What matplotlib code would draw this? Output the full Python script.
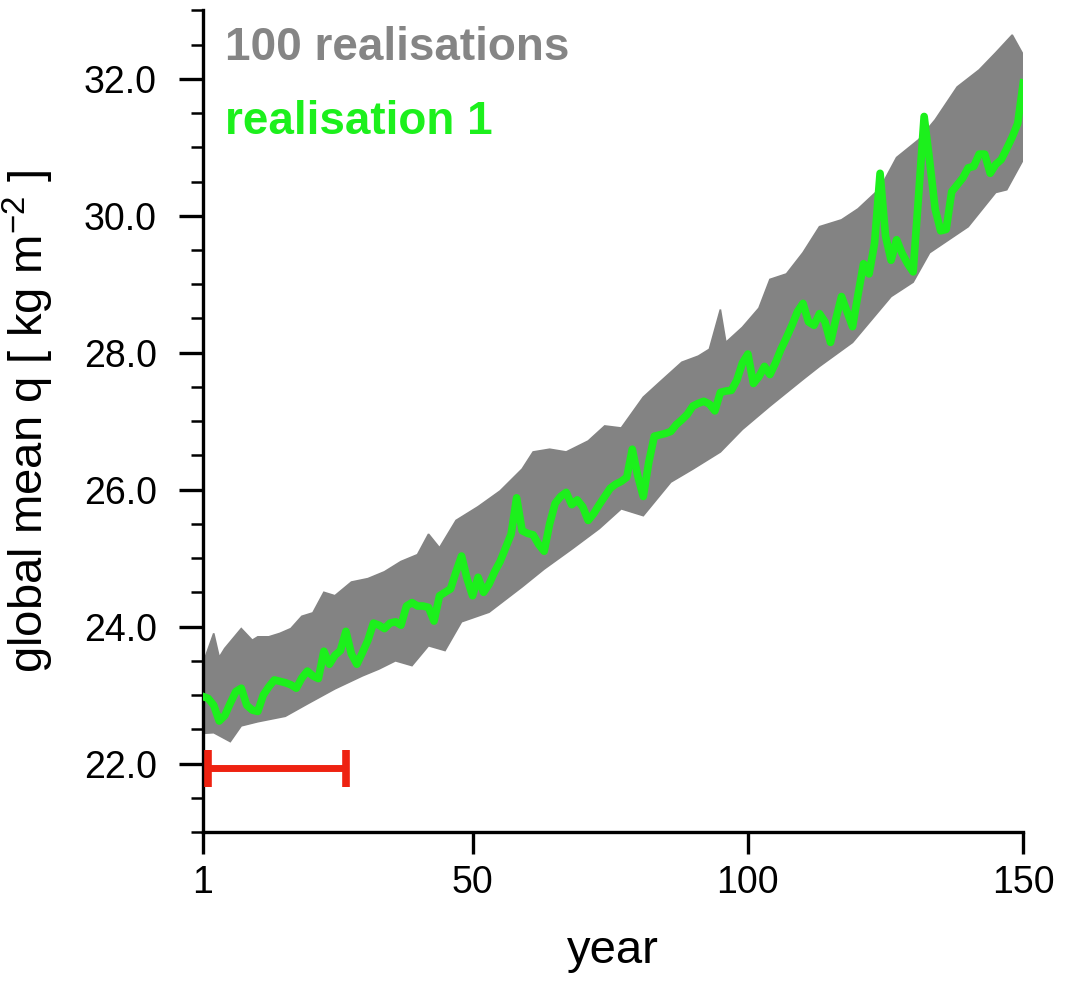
import numpy as np
import matplotlib
matplotlib.use("Agg")
import matplotlib.pyplot as plt

plt.rcParams["font.family"] = ["Liberation Sans", "DejaVu Sans"]
plt.rcParams["mathtext.default"] = "regular"

# realisation 1 (green), one value per year
years = np.arange(1, 151)
real1 = [
    22.98, 22.95, 22.85, 22.62, 22.70, 22.88, 23.05, 23.10, 22.85, 22.78,
    22.76, 23.00, 23.12, 23.22, 23.20, 23.18, 23.15, 23.10, 23.25, 23.35,
    23.28, 23.24, 23.64, 23.45, 23.58, 23.65, 23.93, 23.60, 23.45, 23.62,
    23.80, 24.05, 24.02, 23.97, 24.05, 24.07, 24.02, 24.30, 24.35, 24.30,
    24.30, 24.28, 24.08, 24.45, 24.50, 24.55, 24.80, 25.03, 24.70, 24.45,
    24.72, 24.50, 24.62, 24.80, 24.95, 25.15, 25.35, 25.88, 25.40, 25.36,
    25.34, 25.20, 25.10, 25.50, 25.80, 25.90, 25.96, 25.78, 25.85, 25.75,
    25.55, 25.65, 25.78, 25.90, 26.02, 26.08, 26.12, 26.18, 26.59, 26.20,
    25.90, 26.40, 26.78, 26.80, 26.82, 26.85, 26.95, 27.02, 27.10, 27.22,
    27.26, 27.29, 27.25, 27.15, 27.42, 27.44, 27.45, 27.60, 27.85, 27.98,
    27.55, 27.65, 27.80, 27.68, 27.85, 28.05, 28.22, 28.40, 28.60, 28.72,
    28.45, 28.40, 28.57, 28.45, 28.15, 28.50, 28.82, 28.60, 28.38, 28.85,
    29.30, 29.15, 29.60, 30.62, 29.70, 29.35, 29.65, 29.45, 29.30, 29.18,
    30.30, 31.45, 30.80, 30.10, 29.78, 29.80, 30.35, 30.45, 30.55, 30.70,
    30.72, 30.90, 30.90, 30.62, 30.75, 30.82, 30.98, 31.15, 31.35, 31.94,
]

# envelope of the 100 realisations (grey band)
upper_years = [1, 3, 4, 5, 8, 10, 11, 13, 15, 17, 19, 21, 23, 25, 28, 31, 34, 37,
               40, 42, 44, 47, 51, 55, 59, 61, 64, 67, 71, 74, 77, 81, 84, 88,
               91, 93, 95, 96, 99, 102, 104, 107, 110, 113, 117, 120, 124, 127,
               131, 134, 138, 142, 145, 148, 150]
upper_vals = [23.45, 23.90, 23.55, 23.68, 23.97, 23.80, 23.85, 23.85, 23.90, 23.97,
              24.15, 24.20, 24.50, 24.45, 24.65, 24.70, 24.80, 24.95, 25.05, 25.35,
              25.15, 25.55, 25.75, 25.98, 26.30, 26.55, 26.59, 26.55, 26.71, 26.93,
              26.90, 27.35, 27.57, 27.86, 27.95, 28.05, 28.63, 28.15, 28.37, 28.65,
              29.07, 29.15, 29.46, 29.84, 29.94, 30.10, 30.40, 30.85, 31.11, 31.40,
              31.88, 32.13, 32.38, 32.64, 32.35]
lower_years = [1, 3, 6, 8, 11, 16, 20, 25, 30, 33, 36, 39, 42, 45, 48, 53, 59, 63,
               68, 73, 77, 81, 86, 90, 95, 99, 104, 110, 113, 119, 126, 130, 133,
               140, 145, 147, 150]
lower_vals = [22.44, 22.45, 22.32, 22.55, 22.61, 22.69, 22.87, 23.09, 23.28, 23.38,
              23.50, 23.43, 23.72, 23.65, 24.07, 24.21, 24.58, 24.84, 25.13, 25.43,
              25.72, 25.62, 26.11, 26.30, 26.55, 26.88, 27.22, 27.61, 27.80, 28.15,
              28.82, 29.03, 29.46, 29.84, 30.34, 30.38, 30.82]

# reference period bar
ref_start, ref_end, ref_level = 2, 27, 21.93

fig = plt.figure(figsize=(10.67, 9.84), dpi=100)
ax = fig.add_axes([0.190, 0.1545, 0.769, 0.835])

grey = "#838383"
green = "#1CF01C"
band_x = list(upper_years) + list(lower_years[::-1])
band_y = list(upper_vals) + list(lower_vals[::-1])
ax.fill(band_x, band_y, color=grey, lw=1.2, ec=grey, zorder=2)

ax.plot(years, real1, color=green, lw=5.5, zorder=3, solid_joinstyle="round")

# red bar with end caps
ax.plot([ref_start, ref_end], [ref_level, ref_level], color="#EE2211", lw=5,
        solid_capstyle="butt", zorder=3)
ax.vlines([ref_start, ref_end], ref_level - 0.27, ref_level + 0.27,
          color="#EE2211", lw=5.5, zorder=3)

ax.set_xlim(1, 150)
ax.set_ylim(21, 33)
ax.set_xticks([1, 50, 100, 150])
ax.set_yticks(np.arange(22, 33, 2))
ax.set_yticks(np.arange(21, 33.01, 0.5), minor=True)
ax.set_yticklabels([f"{v:.1f}" for v in np.arange(22, 33, 2)])

for side in ["top", "right"]:
    ax.spines[side].set_visible(False)
for side in ["left", "bottom"]:
    ax.spines[side].set_linewidth(2.4)

ax.tick_params(axis="y", which="major", direction="out", length=17, width=2.4,
               labelsize=27, pad=16)
ax.tick_params(axis="y", which="minor", direction="out", length=9, width=1.8)
ax.tick_params(axis="x", which="major", direction="out", length=16, width=2.4,
               labelsize=27, pad=8)

ax.set_xlabel("year", fontsize=34, labelpad=20)
ax.set_ylabel("global mean q [ kg m$^{-2}$ ]", fontsize=34, labelpad=20)

ax.text(0.027, 0.954, "100 realisations", transform=ax.transAxes, fontsize=33,
        fontweight="bold", color="#858585", va="center", ha="left")
ax.text(0.027, 0.864, "realisation 1", transform=ax.transAxes, fontsize=33,
        fontweight="bold", color=green, va="center", ha="left")

fig.savefig("out.png", dpi=100)
